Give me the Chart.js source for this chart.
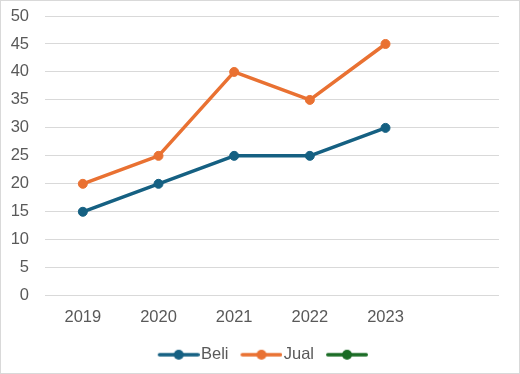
<!DOCTYPE html>
<html>
<head>
<meta charset="utf-8">
<script src="https://cdn.jsdelivr.net/npm/chart.js@4"></script>
<style>
html,body{margin:0;padding:0;background:#fff;}
#wrap{width:520px;height:374px;box-sizing:border-box;border:1px solid #d9d9d9;position:relative;}
canvas{display:block;}
</style>
</head>
<body>
<div id="wrap"><canvas id="c" width="518" height="372"></canvas></div>
<script>
const categories = ['2019', '2020', '2021', '2022', '2023', ''];
const beli = [15, 20, 25, 25, 30, null];
const jual = [20, 25, 40, 35, 45, null];
const third = [null, null, null, null, null, null];
const seriesNames = ['Beli', 'Jual', ''];
const colors = ['#156082', '#E97132', '#196B24'];
const FONT = 'Liberation Sans, Arial, sans-serif';
const FS = 16.5;

function legendImg(color) {
  const c = document.createElement('canvas');
  c.width = 54; c.height = 12;
  const g = c.getContext('2d');
  g.strokeStyle = color; g.lineWidth = 3.5; g.lineCap = 'round';
  g.beginPath(); g.moveTo(13.75, 6); g.lineTo(52.25, 6); g.stroke();
  g.fillStyle = color;
  g.beginPath(); g.arc(33, 6, 5, 0, Math.PI * 2); g.fill();
  return c;
}

const datasets = [beli, jual, third].map((d, i) => ({
  label: seriesNames[i],
  data: d,
  borderColor: colors[i],
  backgroundColor: colors[i],
  borderWidth: 3.5,
  pointRadius: 4.5,
  pointHoverRadius: 4.5,
  pointBackgroundColor: colors[i],
  pointBorderColor: colors[i],
  pointBorderWidth: 1,
  pointStyle: 'circle',
  borderJoinStyle: 'round',
  tension: 0
}));

const imgs = colors.map(legendImg);

const centerLegend = {
  id: 'centerLegend',
  afterLayout(chart) {
    const lg = chart.legend;
    if (lg) {
      const shift = (chart.width - (lg.left + lg.right)) / 2 + 1;
      lg.left += shift;
      lg.right += shift;
    }
  }
};

new Chart(document.getElementById('c'), {
  type: 'line',
  data: { labels: categories, datasets },
  plugins: [centerLegend],
  options: {
    responsive: false,
    animation: false,
    layout: { padding: { left: 0, right: 20, top: 15, bottom: 0 } },
    plugins: {
      tooltip: { enabled: false },
      legend: {
        position: 'bottom',
        labels: {
          color: '#595959',
          font: { family: FONT, size: FS },
          usePointStyle: true,
          pointStyleWidth: 40,
          padding: 7,
          generateLabels(chart) {
            return chart.data.datasets.map((ds, i) => ({
              text: ds.label,
              fillStyle: colors[i],
              strokeStyle: colors[i],
              lineWidth: 0,
              pointStyle: imgs[i],
              datasetIndex: i,
              hidden: false,
              fontColor: '#595959'
            }));
          }
        }
      }
    },
    scales: {
      x: {
        offset: true,
        grid: { display: false, drawTicks: false },
        border: { display: false },
        ticks: {
          color: '#595959',
          font: { family: FONT, size: FS },
          padding: 12,
          maxRotation: 0
        }
      },
      y: {
        min: 0, max: 50,
        grid: { color: '#d9d9d9', lineWidth: 1, drawTicks: false },
        border: { display: false },
        ticks: {
          stepSize: 5,
          color: '#595959',
          font: { family: FONT, size: FS },
          padding: 16
        },
        afterFit(scale) { scale.width = 44; scale.paddingTop = 0; scale.paddingBottom = 0; }
      }
    }
  }
});
</script>
</body>
</html>
